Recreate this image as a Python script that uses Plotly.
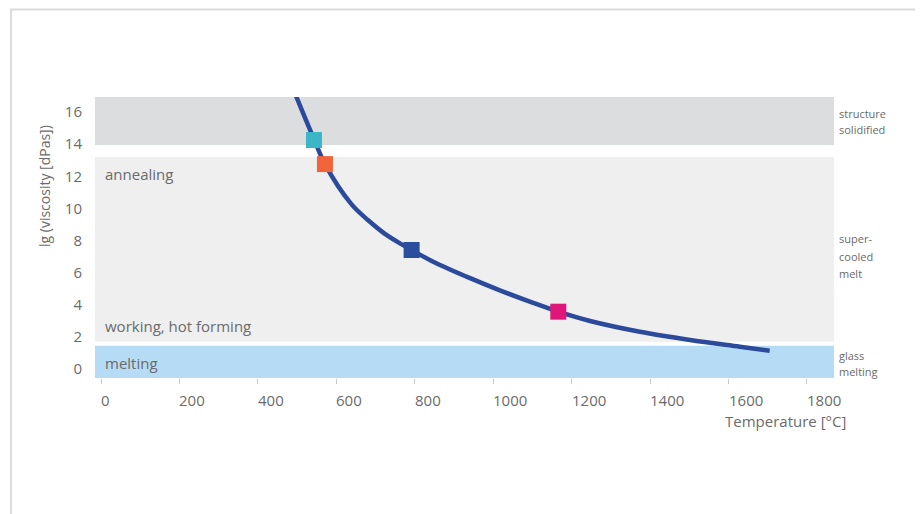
import plotly.graph_objects as go

# ---- data ----
temperature = [494, 544, 571, 639, 682, 724, 767, 792, 847, 932, 1017, 1102, 1166,
               1247, 1374, 1502, 1629, 1705]
lg_viscosity = [17.2, 14.26, 12.76, 10.25, 9.25, 8.42, 7.76, 7.41, 6.68, 5.75, 4.90,
                4.12, 3.57, 2.99, 2.32, 1.81, 1.39, 1.14]

point_temps = [543, 571, 792, 1166]
point_values = [14.26, 12.76, 7.41, 3.57]
point_colors = ["#3cb6c6", "#f2643a", "#2b4d9e", "#e0177a"]

band_lower = [13.95, 1.7, -0.56]
band_upper = [16.94, 13.2, 1.45]
band_colors = ["#dcdddf", "#efefef", "#b5dcf4"]
band_right_labels = [["structure", "solidified"], ["super-", "cooled", "melt"], ["glass", "melting"]]
band_right_label_y = [[113, 130], [239, 256, 273], [355, 371]]

inner_labels = ["annealing", "working, hot forming", "melting"]
inner_label_values = [12.14, 2.68, 0.37]

x_ticks = [0, 200, 400, 600, 800, 1000, 1200, 1400, 1600, 1800]
y_ticks = [0, 2, 4, 6, 8, 10, 12, 14, 16]

x_range = [-15.3, 1869]
y_range = [-0.56, 16.94]

# ---- layout geometry (page pixels; the page body adds an 8px margin) ----
PAGE_W, PAGE_H = 923, 514
OFF = 8
W, H = PAGE_W - OFF, PAGE_H - OFF
PL, PT, PR, PB = 95, 97, 834, 378          # plot area in page pixels
ML, MT = PL - OFF, PT - OFF
MR, MB = (OFF + W) - PR, (OFF + H) - PB
PW, PH = PR - PL, PB - PT
FONT = "Open Sans"
GREY = "#6b6b6b"


def px_to_paper_x(px):
    return (px - PL) / PW


def py_to_paper_y(py):
    return (PB - py) / PH


fig = go.Figure()

fig.add_trace(go.Scatter(
    x=temperature, y=lg_viscosity, mode="lines",
    line=dict(color="#2b4a9b", width=4.5, shape="spline", smoothing=1.0),
    hoverinfo="skip", showlegend=False, cliponaxis=True,
))
fig.add_trace(go.Scatter(
    x=point_temps, y=point_values, mode="markers",
    marker=dict(symbol="square", size=16, color=point_colors, line=dict(width=0)),
    showlegend=False,
))

shapes = []
for lo, hi, col in zip(band_lower, band_upper, band_colors):
    shapes.append(dict(type="rect", xref="paper", yref="y", x0=0, x1=1, y0=lo, y1=hi,
                       fillcolor=col, line=dict(width=0), layer="below"))
# outer frame
shapes.append(dict(type="rect", xref="paper", yref="paper",
                   x0=px_to_paper_x(11), x1=px_to_paper_x(919),
                   y0=py_to_paper_y(530), y1=py_to_paper_y(9.5),
                   line=dict(color="#dcdcdc", width=2), fillcolor="rgba(0,0,0,0)", layer="below"))

annotations = []
for txt, v in zip(inner_labels, inner_label_values):
    annotations.append(dict(text=txt, xref="paper", yref="y", x=0, y=v, xanchor="left",
                            yanchor="middle", xshift=8, showarrow=False,
                            font=dict(family=FONT, size=15, color=GREY)))
for lines, ys in zip(band_right_labels, band_right_label_y):
    for txt, py in zip(lines, ys):
        annotations.append(dict(text=txt, xref="paper", yref="paper", x=1, y=py_to_paper_y(py),
                                xanchor="left", yanchor="middle", xshift=3, showarrow=False,
                                font=dict(family=FONT, size=11, color=GREY)))
# x tick labels (left-aligned at the ticks, as in the reference)
for t in x_ticks:
    annotations.append(dict(text=str(t), xref="x", yref="paper", x=t, y=py_to_paper_y(400),
                            xanchor="left", yanchor="middle", xshift=-2, showarrow=False,
                            font=dict(family=FONT, size=15, color=GREY)))
annotations.append(dict(text="Temperature [°C]", xref="paper", yref="paper", x=1, y=py_to_paper_y(421),
                        xanchor="right", yanchor="middle", xshift=14, showarrow=False,
                        font=dict(family=FONT, size=15, color=GREY)))
annotations.append(dict(text="lg (viscosity [dPas])", xref="paper", yref="paper",
                        x=px_to_paper_x(44), y=py_to_paper_y(186), textangle=-90,
                        xanchor="center", yanchor="middle", showarrow=False,
                        font=dict(family=FONT, size=14, color=GREY)))

fig.update_layout(
    width=W, height=H,
    margin=dict(l=ML, r=MR, t=MT, b=MB, pad=0),
    paper_bgcolor="white", plot_bgcolor="white",
    shapes=shapes, annotations=annotations,
    xaxis=dict(range=x_range, tickvals=x_ticks, showticklabels=False, ticks="outside",
               ticklen=5, tickwidth=1, tickcolor="#c8c8c8", showgrid=False, zeroline=False,
               showline=False, fixedrange=True),
    yaxis=dict(range=y_range, tickvals=y_ticks, ticks="", showgrid=False, zeroline=False,
               showline=False, ticklabelstandoff=12,
               tickfont=dict(family=FONT, size=15, color=GREY), fixedrange=True),
)

fig.write_html("out.html")
